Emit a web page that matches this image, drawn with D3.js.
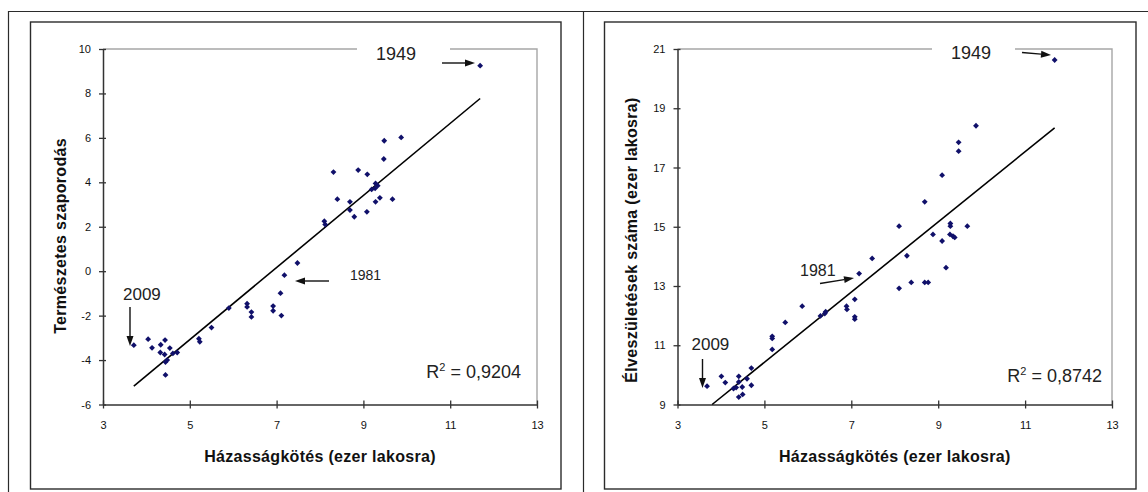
<!DOCTYPE html>
<html><head><meta charset="utf-8">
<script src="https://cdn.jsdelivr.net/npm/d3@7"></script>
<style>
body{margin:0;background:#fff;}
svg{display:block;font-family:Arial,"Liberation Sans",sans-serif;}
</style></head><body>
<svg id="c" width="1148" height="492"></svg>
<script>
// ---------- data ----------
const xTicks = [3, 5, 7, 9, 11, 13];
const leftYTicks = [-6, -4, -2, 0, 2, 4, 6, 8, 10];
const rightYTicks = [9, 11, 13, 15, 17, 19, 21];
const xTitle = "Házasságkötés (ezer lakosra)";
const leftYTitle = "Természetes szaporodás";
const rightYTitle = "Élveszületések száma (ezer lakosra)";
const leftR2 = "0,9204";
const rightR2 = "0,8742";

// marriages per 1000 (x) vs natural increase (y) — left chart
const leftX = [11.69, 9.87, 9.48, 9.47, 8.31, 8.88, 9.09, 9.28, 9.33, 9.19, 9.27, 8.40, 8.69, 8.69, 8.79, 9.08,
  9.28, 9.38, 9.67, 8.10, 8.12, 7.48, 7.18, 7.09, 7.11, 6.92, 6.92, 6.32, 6.32, 6.42, 6.42, 5.90,
  5.50, 5.21, 5.23, 4.71, 4.61, 4.54, 4.48, 4.44, 4.44, 4.43, 4.33, 4.32, 4.42, 4.13, 4.04, 3.71];
const leftY = [9.25, 6.02, 5.87, 5.05, 4.46, 4.55, 4.36, 3.95, 3.85, 3.68, 3.73, 3.24, 3.12, 2.75, 2.45, 2.67,
  3.12, 3.30, 3.24, 2.25, 2.10, 0.37, -0.18, -0.99, -2.00, -1.57, -1.78, -1.46, -1.61, -1.84, -2.06, -1.66,
  -2.54, -3.04, -3.18, -3.66, -3.70, -3.46, -4.00, -4.09, -4.67, -3.10, -3.31, -3.66, -3.75, -3.45, -3.06, -3.33];

// marriages per 1000 (x) vs live births per 1000 (y) — right chart
const rightX = [11.68, 9.87, 9.47, 9.47, 9.09, 8.69, 8.10, 9.28, 9.28, 9.67, 8.88, 9.27, 9.34, 9.38, 9.09, 8.28,
  7.48, 9.18, 7.18, 8.38, 8.69, 8.77, 8.10, 7.08, 6.89, 6.90, 7.08, 7.08, 5.87, 6.29, 6.39, 6.41,
  5.48, 5.18, 5.18, 5.18, 4.70, 4.70, 4.60, 4.49, 4.41, 4.41, 4.29, 4.35, 4.41, 4.50, 4.10, 4.01, 3.68];
const rightY = [20.63, 18.41, 17.85, 17.55, 16.74, 15.84, 15.02, 15.11, 15.02, 15.02, 14.74, 14.74, 14.68, 14.64, 14.52, 14.02,
  13.93, 13.62, 13.42, 13.12, 13.12, 13.12, 12.92, 12.55, 12.32, 12.21, 11.96, 11.88, 12.32, 11.99, 12.07, 12.13,
  11.77, 11.30, 11.23, 10.86, 10.23, 9.65, 9.87, 9.59, 9.95, 9.76, 9.54, 9.57, 9.25, 9.34, 9.74, 9.95, 9.62];

// ---------- drawing ----------
const svg = d3.select("#c");
const FRAME = "#2b2b2b";

// outer frame lines
svg.append("path").attr("d", "M8.5,492V11.5H1148M583.5,11.5V492")
  .attr("fill", "none").attr("stroke", FRAME).attr("stroke-width", 1.2);

function arrow(g, x1, y1, x2, y2) {
  const a = Math.atan2(y2 - y1, x2 - x1), L = 10, W = 3.5;
  const bx = x2 - L * Math.cos(a), by = y2 - L * Math.sin(a);
  g.append("line").attr("x1", x1).attr("y1", y1).attr("x2", bx).attr("y2", by)
    .attr("stroke", "#111").attr("stroke-width", 1.4);
  g.append("path").attr("d", `M${x2},${y2}L${bx - W * Math.sin(a)},${by + W * Math.cos(a)}L${bx + W * Math.sin(a)},${by - W * Math.cos(a)}Z`)
    .attr("fill", "#111");
}

function chart(cfg) {
  const g = svg.append("g");
  // inner frame
  g.append("rect").attr("x", cfg.frame[0]).attr("y", cfg.frame[1])
    .attr("width", cfg.frame[2] - cfg.frame[0]).attr("height", cfg.frame[3] - cfg.frame[1])
    .attr("fill", "#fff").attr("stroke", FRAME).attr("stroke-width", 1.4);

  const x = d3.scaleLinear().domain([3, 13]).range(cfg.xr);
  const y = d3.scaleLinear().domain(cfg.yd).range(cfg.yr);

  // grey plot border (top + right)
  g.append("path").attr("d", `M${cfg.xr[0]},${cfg.yr[1]}H${cfg.xr[1]}V${cfg.yr[0]}`)
    .attr("fill", "none").attr("stroke", "#a6a6a6").attr("stroke-width", 1.4);

  // y axis
  const ya = g.append("g").attr("transform", `translate(${cfg.xr[0]},0)`)
    .call(d3.axisLeft(y).tickValues(cfg.yTicks).tickSize(4).tickSizeOuter(0).tickPadding(8).tickFormat(d => String(d)));
  ya.selectAll(".tick line").attr("x1", 3).attr("x2", -4);
  // x axis
  const xa = g.append("g").attr("transform", `translate(0,${cfg.yr[0]})`)
    .call(d3.axisBottom(x).tickValues(xTicks).tickSize(4).tickSizeOuter(0).tickPadding(13).tickFormat(d => String(d)));
  xa.selectAll(".tick line").attr("y1", -4).attr("y2", 4);
  [ya, xa].forEach(a => {
    a.select(".domain").attr("stroke", "#333").attr("stroke-width", 1.5);
    a.selectAll(".tick line").attr("stroke", "#333").attr("stroke-width", 1.3);
    a.selectAll(".tick text").attr("font-size", 11).attr("fill", "#111")
      .attr("font-family", "Arial, 'Liberation Sans', sans-serif");
  });

  // trendline (least squares)
  const n = cfg.xs.length;
  const mx = d3.mean(cfg.xs), my = d3.mean(cfg.ys);
  let sxy = 0, sxx = 0;
  for (let i = 0; i < n; i++) { sxy += (cfg.xs[i] - mx) * (cfg.ys[i] - my); sxx += (cfg.xs[i] - mx) ** 2; }
  const b = sxy / sxx, a0 = my - b * mx;
  let x0 = d3.min(cfg.xs), x1 = d3.max(cfg.xs);
  if (a0 + b * x0 < cfg.yd[0]) x0 = (cfg.yd[0] - a0) / b;
  g.append("line").attr("x1", x(x0)).attr("y1", y(a0 + b * x0)).attr("x2", x(x1)).attr("y2", y(a0 + b * x1))
    .attr("stroke", "#000").attr("stroke-width", 1.6);

  // points
  g.selectAll("path.pt").data(d3.range(n)).join("path").attr("class", "pt")
    .attr("d", d3.symbol(d3.symbolSquare, 17))
    .attr("transform", i => `translate(${x(cfg.xs[i])},${y(cfg.ys[i])}) rotate(45)`)
    .attr("fill", "#10106a");

  // axis titles
  g.append("text").attr("x", (cfg.xr[0] + cfg.xr[1]) / 2).attr("y", 462).attr("text-anchor", "middle")
    .attr("font-size", 16).attr("font-weight", "bold").attr("letter-spacing", 0.3).attr("fill", "#111").text(xTitle);
  g.append("text").attr("transform", `translate(${cfg.ytx},${cfg.yty}) rotate(-90)`).attr("text-anchor", "middle")
    .attr("font-size", 16).attr("font-weight", "bold").attr("letter-spacing", 0.3).attr("fill", "#111").text(cfg.yTitle);

  // 1949 label box
  g.append("rect").attr("x", cfg.box[0]).attr("y", 38).attr("width", cfg.box[1] - cfg.box[0]).attr("height", 28).attr("fill", "#fff");
  g.append("text").attr("x", cfg.l1949[0]).attr("y", cfg.l1949[1]).attr("font-size", 18).attr("fill", "#222").text("1949");
  arrow(g, ...cfg.a1949);
  g.append("text").attr("x", cfg.l1981[0]).attr("y", cfg.l1981[1]).attr("font-size", cfg.l1981[2]).attr("fill", "#222").text("1981");
  arrow(g, ...cfg.a1981);
  g.append("text").attr("x", cfg.l2009[0]).attr("y", cfg.l2009[1]).attr("font-size", 17).attr("fill", "#222").text("2009");
  arrow(g, ...cfg.a2009);

  // R^2
  const r = g.append("text").attr("x", cfg.r2[0]).attr("y", cfg.r2[1]).attr("text-anchor", "end")
    .attr("font-size", 18).attr("fill", "#222");
  r.append("tspan").text("R");
  r.append("tspan").attr("font-size", 11).attr("dy", -7).text("2");
  r.append("tspan").attr("dy", 7).text(" = " + cfg.r2t);
}

chart({
  frame: [30.5, 22, 561, 489], xr: [103, 537], yd: [-6, 10], yr: [404.5, 49], yTicks: leftYTicks,
  xs: leftX, ys: leftY, yTitle: leftYTitle, ytx: 66, yty: 236,
  box: [357, 450], l1949: [376, 59.5], a1949: [442, 63, 475, 63],
  l1981: [350, 280, 14], a1981: [329, 281, 295, 281],
  l2009: [123, 299.5], a2009: [130, 307, 130, 346],
  r2: [521, 378], r2t: leftR2
});
chart({
  frame: [604.5, 22, 1136, 489], xr: [677.5, 1112], yd: [9, 21], yr: [404.5, 49], yTicks: rightYTicks,
  xs: rightX, ys: rightY, yTitle: rightYTitle, ytx: 637, yty: 240,
  box: [932, 1015], l1949: [951, 59], a1949: [1022, 52.5, 1051, 55],
  l1981: [800, 276, 16], a1981: [820, 283.5, 854, 278],
  l2009: [691.5, 349.5], a2009: [702.5, 359, 702.5, 388],
  r2: [1102, 382], r2t: rightR2
});
</script></body></html>
